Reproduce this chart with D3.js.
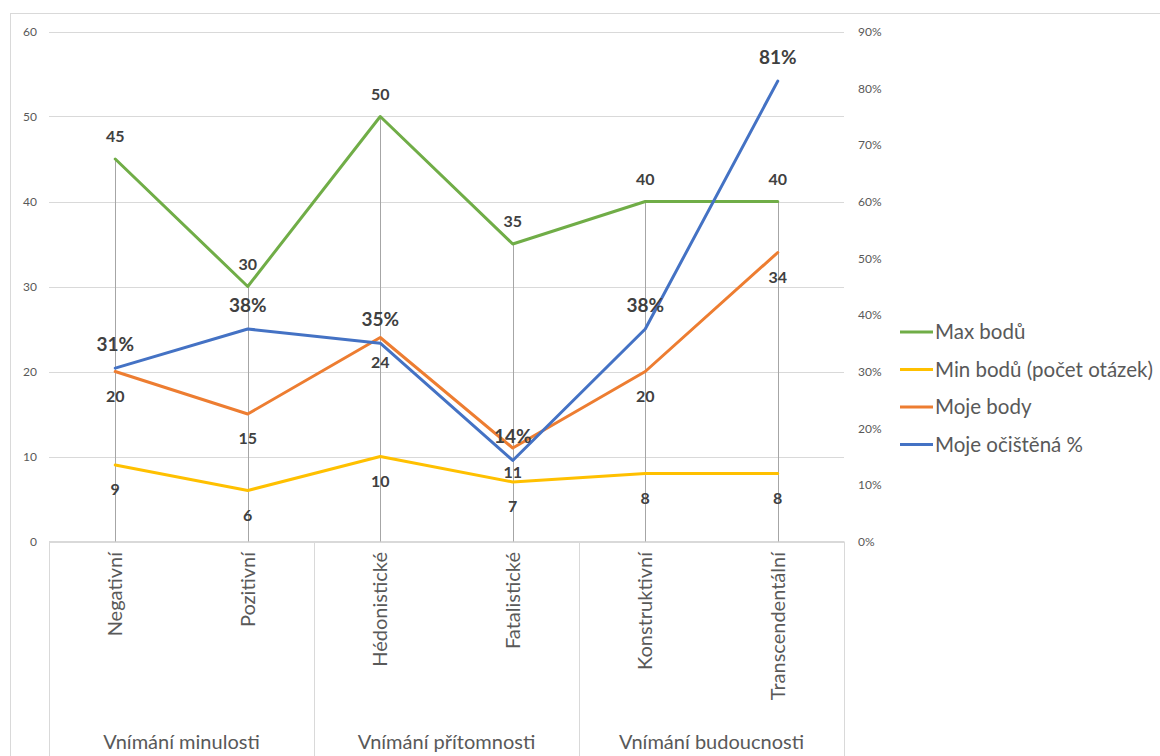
<!DOCTYPE html>
<html><head><meta charset="utf-8">
<script src="https://cdn.jsdelivr.net/npm/d3@7"></script>
<style>body{margin:0;background:#fff;}svg{display:block;font-family:Lato, "Open Sans", sans-serif;}</style>
</head><body>
<svg id="c" width="1160" height="756"></svg>
<script>
const categories = ["Negativní","Pozitivní","Hédonistické","Fatalistické","Konstruktivní","Transcendentální"];
const groups = ["Vnímání minulosti","Vnímání přítomnosti","Vnímání budoucnosti"];
const maxBodu = [45,30,50,35,40,40];
const minBodu = [9,6,10,7,8,8];
const mojeBody = [20,15,24,11,20,34];
const mojePct = [0.306,0.375,0.35,0.143,0.375,0.8125];
const leftTicks = [0,10,20,30,40,50,60];
const rightTicks = [0,0.1,0.2,0.3,0.4,0.5,0.6,0.7,0.8,0.9];
const seriesNames = ["Max bodů","Min bodů (počet otázek)","Moje body","Moje očištěná %"];
const colors = ["#70ad47","#ffc000","#ed7d31","#4472c4"];

const svg = d3.select("#c");
const L = 49, R = 844, T = 31.5, B = 541.5;
const x = d3.scaleBand().domain(categories).range([L,R]);
const y = d3.scaleLinear().domain([0,60]).range([B,T]);
const y2 = d3.scaleLinear().domain([0,0.9]).range([B,T]);
const cx = c => x(c) + x.bandwidth()/2;

// frame
svg.append("rect").attr("x",10.5).attr("y",13.5).attr("width",1200).attr("height",800)
  .attr("fill","none").attr("stroke","#d9d9d9");

// gridlines
svg.append("g").selectAll("line").data(leftTicks).join("line")
  .attr("x1",L).attr("x2",R).attr("y1",d=>Math.round(y(d))+0.5).attr("y2",d=>Math.round(y(d))+0.5)
  .attr("stroke","#d9d9d9").attr("stroke-width",1);

// axes labels
const ax = d3.axisLeft(y).tickValues(leftTicks).tickSize(0).tickPadding(0);
const gL = svg.append("g").attr("transform",`translate(37,0)`).call(ax);
gL.select(".domain").remove();
gL.selectAll("text").attr("font-size",12).attr("fill","#595959").attr("font-family","Lato");

const ax2 = d3.axisRight(y2).tickValues(rightTicks).tickFormat(d3.format(".0%")).tickSize(0).tickPadding(0);
const gR = svg.append("g").attr("transform",`translate(858,0)`).call(ax2);
gR.select(".domain").remove();
gR.selectAll("text").attr("font-size",12).attr("fill","#595959").attr("font-family","Lato");

// category axis box
svg.append("line").attr("x1",L).attr("x2",R).attr("y1",541.5).attr("y2",541.5).attr("stroke","#d9d9d9");
const seps = [0,2,4,6].map(i => i<6 ? x(categories[i]) : R);
svg.append("g").selectAll("line").data(seps).join("line")
  .attr("x1",d=>Math.round(d)+0.5).attr("x2",d=>Math.round(d)+0.5).attr("y1",541.5).attr("y2",760)
  .attr("stroke","#d9d9d9");

// drop lines
svg.append("g").selectAll("line").data(categories).join("line")
  .attr("x1",c=>Math.round(cx(c))+0.5).attr("x2",c=>Math.round(cx(c))+0.5)
  .attr("y1",(c,i)=>y(Math.max(maxBodu[i],minBodu[i],mojeBody[i]))).attr("y2",B)
  .attr("stroke","#a6a6a6").attr("stroke-width",1);

// category labels
svg.append("g").selectAll("text").data(categories).join("text")
  .attr("transform",c=>`translate(${cx(c)+7},552) rotate(-90)`)
  .attr("text-anchor","end").attr("font-size",20).attr("fill","#595959").text(c=>c);

// group labels
svg.append("g").selectAll("text").data(groups).join("text")
  .attr("x",(g,i)=>(seps[i]+seps[i+1])/2).attr("y",749)
  .attr("text-anchor","middle").attr("font-size",20).attr("fill","#595959").text(g=>g);

// lines
const line = d3.line().x((d,i)=>cx(categories[i]));
const series = [
  {vals:maxBodu, sc:y, fmt:d=>d, pos:"above", size:16},
  {vals:minBodu, sc:y, fmt:d=>d, pos:"below", size:16},
  {vals:mojeBody, sc:y, fmt:d=>d, pos:"below", size:16},
  {vals:mojePct, sc:y2, fmt:d3.format(".0%"), pos:"above", size:19}
];
series.forEach((s,k)=>{
  svg.append("path").datum(s.vals).attr("d",line.y(d=>s.sc(d)))
    .attr("fill","none").attr("stroke",colors[k]).attr("stroke-width",3).attr("stroke-linejoin","round").attr("stroke-linecap","round");
});
series.forEach((s,k)=>{
  svg.append("g").selectAll("text").data(s.vals).join("text")
    .attr("x",(d,i)=>cx(categories[i]))
    .attr("y",d=> s.pos==="above" ? s.sc(d)-17 : s.sc(d)+30)
    .attr("text-anchor","middle").attr("font-size",s.size).attr("font-weight","bold")
    .attr("fill","#404040").text(d=>s.fmt(d));
});

// legend
const lg = svg.append("g").selectAll("g").data(seriesNames).join("g")
  .attr("transform",(d,i)=>`translate(900,${332+i*37.5})`);
lg.append("line").attr("x1",0).attr("x2",33).attr("stroke",(d,i)=>colors[i]).attr("stroke-width",3);
lg.append("text").attr("x",35).attr("y",7).attr("font-size",20.5).attr("fill","#595959").text(d=>d);
</script>
</body></html>
